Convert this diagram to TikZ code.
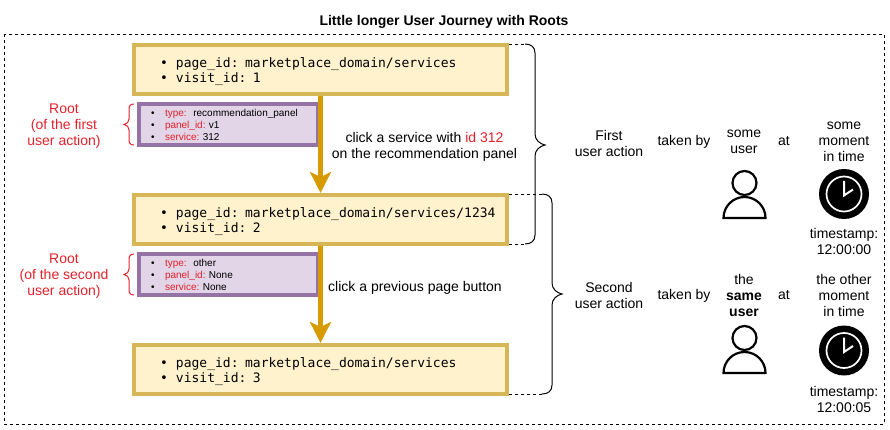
\documentclass[tikz,border=0pt]{standalone}
\usepackage{fontspec}
\setmainfont{Liberation Sans}
\newfontfamily\visitfont{DejaVu Sans Mono}
\usetikzlibrary{arrows.meta}

\definecolor{visitfill}{HTML}{FFF2CC}
\definecolor{visitline}{HTML}{D6B656}
\definecolor{rootfill}{HTML}{E1D5E7}
\definecolor{rootline}{HTML}{9673A6}
\definecolor{flowline}{HTML}{D79B00}
\definecolor{rootred}{HTML}{E3212B}

\newcommand{\visititem}[1]{\hspace*{15.5pt}\makebox[16pt][l]{\textbullet}\mbox{#1}}
\newcommand{\rootitem}[2]{\makebox[14pt][l]{\textbullet}\textcolor{rootred}{#1}~#2}

\tikzset{
    visitbox/.style={draw=visitline, fill=visitfill, line width=4pt, minimum width=373pt,
        minimum height=49pt, text width=352pt, inner xsep=10.5pt, align=left,
        font=\visitfont\fontsize{13}{15}\selectfont, execute at begin node={\rule{0pt}{15pt}}},
    rootbox/.style={draw=rootline, fill=rootfill, line width=4pt, minimum width=179pt,
        minimum height=41pt, text width=155pt, inner xsep=12pt, inner ysep=0pt, align=left,
        font=\fontsize{10}{12}\selectfont},
    label/.style={align=center, inner sep=0pt, yshift=-1.5pt, font=\fontsize{14}{16}\selectfont},
    rootlabel/.style={label, text=rootred},
    flow/.style={draw=flowline, line width=5pt, -{Stealth[length=21pt,width=21pt,inset=5pt]}},
    tie/.style={dashed, line width=0.8pt},
    curly/.style={line width=1pt},
    person/.style={draw, line width=2.2pt, fill=white},
}

\begin{document}
\begin{tikzpicture}[x=1pt, y=-1pt]
    \useasboundingbox (0, 0) rectangle (890, 430);

    % Title and frame
    \node[label, font=\fontsize{14}{16}\selectfont\bfseries] (title) at (444, 20) {Little longer User Journey with Roots};
    \draw[dashed, line width=0.8pt] (4, 34) rectangle (884, 424);

    % Visits
    \node[visitbox] (visit1) at (320.5, 69.5) {\visititem{page\_id: marketplace\_domain/services}\\\visititem{visit\_id: 1}};
    \node[visitbox] (visit2) at (320.5, 219.5) {\visititem{page\_id: marketplace\_domain/services/1234}\\\visititem{visit\_id: 2}};
    \node[visitbox] (visit3) at (320.5, 369.5) {\visititem{page\_id: marketplace\_domain/services}\\\visititem{visit\_id: 3}};

    % Roots
    \node[rootbox] (root1) at (228.5, 124.5) {\rootitem{type:}{\ recommendation\_panel}\\\rootitem{panel\_id:}{v1}\\\rootitem{service:}{312}};
    \node[rootbox] (root2) at (228.5, 274.5) {\rootitem{type:}{\ other}\\\rootitem{panel\_id:}{None}\\\rootitem{service:}{None}};

    % Clicks
    \draw[flow] (visit1) -- (visit2);
    \draw[flow] (visit2) -- (visit3);

    % Labels on the left
    \node[rootlabel] (rootname1) at (64, 125) {Root\\(of the first\\user action)};
    \node[rootlabel] (rootname2) at (64, 275) {Root\\(of the second\\user action)};
    \node[label] (click1) at (424.5, 145) {click a service with \textcolor{rootred}{id 312}\\on the recommendation panel};
    \node[label] (click2) at (415, 286) {click a previous page button};

    % Red braces
    \draw[rootred, curly] (134, 104) .. controls (130, 104) and (129, 106) .. (129, 110) -- (129, 119)
        .. controls (129, 122) and (127, 124) .. (124, 124.5) .. controls (127, 125) and (129, 127) .. (129, 130)
        -- (129, 139) .. controls (129, 143) and (130, 145) .. (134, 145);
    \draw[rootred, curly] (134, 254) .. controls (130, 254) and (129, 256) .. (129, 260) -- (129, 269)
        .. controls (129, 272) and (127, 274) .. (124, 274.5) .. controls (127, 275) and (129, 277) .. (129, 280)
        -- (129, 289) .. controls (129, 293) and (130, 295) .. (134, 295);

    % Big braces
    \coordinate (first top) at (525, 44);
    \coordinate (first low) at (525, 244);
    \coordinate (second top) at (542, 194);
    \coordinate (second low) at (542, 394);
    \draw[tie] (first top -| visit1.east) -- (first top);
    \draw[tie] (first low -| visit2.east) -- (first low);
    \draw[tie] (second top -| visit2.east) -- (second top);
    \draw[tie] (second low -| visit3.east) -- (second low);
    \draw[curly] (first top) .. controls (531, 44) and (535, 47) .. (535, 53) -- (535, 134)
        .. controls (535, 140) and (540, 144) .. (545, 145) .. controls (540, 146) and (535, 150) .. (535, 156)
        -- (535, 235) .. controls (535, 241) and (531, 244) .. (first low);
    \draw[curly] (second top) .. controls (548, 194) and (552, 197) .. (552, 203) -- (552, 283)
        .. controls (552, 289) and (557, 293) .. (562, 294) .. controls (557, 295) and (552, 299) .. (552, 305)
        -- (552, 385) .. controls (552, 391) and (548, 394) .. (second low);

    % First action
    \node[label] (action1) at (609, 142) {First\\user action};
    \node[label] (taken1) at (684, 140) {taken by};
    \node[label] (who1) at (744, 140) {some\\user};
    \node[label] (at1) at (784, 140) {at};
    \node[label] (when1) at (844, 140) {some\\moment\\in time};
    \node[label] (stamp1) at (844, 240) {timestamp:\\12:00:00};

    % Second action
    \node[label] (action2) at (609, 294) {Second\\user action};
    \node[label] (taken2) at (684, 294) {taken by};
    \node[label] (who2) at (744, 294) {the\\\textbf{same}\\\textbf{user}};
    \node[label] (at2) at (784, 294) {at};
    \node[label] (when2) at (844, 294) {the other\\moment\\in time};
    \node[label] (stamp2) at (844, 397.5) {timestamp:\\12:00:05};

    % Users
    \foreach \y in {0, 155} {
        \draw[person] (723.5, 218+\y) arc[start angle=180, end angle=360, radius=21] -- cycle;
        \draw[person] (744.5, 183+\y) circle[radius=12];
    }

    % Clocks
    \foreach \y in {194, 350.5} {
        \fill (844, \y) circle[radius=25];
        \draw[white, line width=1.7pt] (844, \y) circle[radius=17.5];
        \draw[white, line width=2pt] (844, \y-13) -- (844, \y+1.5) -- (853, \y-4.5);
    }
\end{tikzpicture}
\end{document}
